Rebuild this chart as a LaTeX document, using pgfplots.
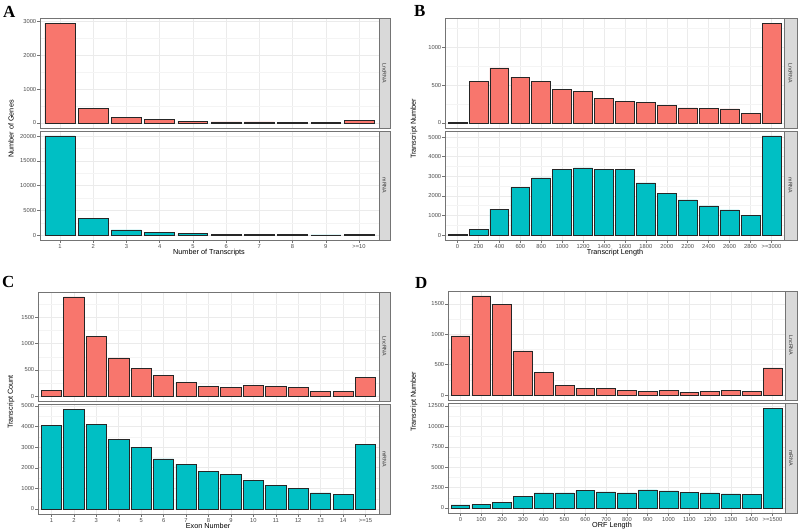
\documentclass[border=0pt]{standalone}
\usepackage{pgfplots}
\pgfplotsset{compat=1.18}
\usepackage{fontspec}
\setmainfont{Liberation Sans}
\newfontfamily\letterfont{Liberation Serif}
\definecolor{lnc}{HTML}{F8766D}
\definecolor{mrna}{HTML}{00BFC4}
\definecolor{border}{HTML}{747474}
\definecolor{gmaj}{HTML}{EBEBEB}
\definecolor{gmin}{HTML}{F4F4F4}
\definecolor{stripc}{HTML}{D9D9D9}
\definecolor{ticktext}{HTML}{4D4D4D}
\pgfplotsset{
  gg/.style={
    scale only axis,
    anchor=north west,
    axis line style={draw=border, line width=0.7bp},
    xmajorgrids, ymajorgrids, yminorgrids,
    major grid style={draw=gmaj, line width=0.55bp},
    minor grid style={draw=gmin, line width=0.35bp},
    tick align=outside, tick pos=left,
    major tick length=2.6bp, minor tick length=0pt,
    tick style={draw=border, line width=0.5bp},
    ticklabel style={font=\fontsize{5.8}{6}\selectfont, text=ticktext},
    yticklabel style={inner sep=1bp},
    xticklabel style={inner sep=1.2bp, anchor=north, text height=4.2bp, text depth=0pt},
    /pgf/number format/.cd, fixed, 1000 sep={}, assume math mode=true, /pgfplots/.cd,
    scaled y ticks=false,
    ybar, bar width=0.9,
  },
  upper/.style={xticklabels={}, xtick style={draw=none}},
  lncbar/.style={fill=lnc, draw=black!85, line width=0.7bp},
  mbar/.style={fill=mrna, draw=black!85, line width=0.7bp},
}
\begin{document}
\begin{tikzpicture}
\fill[white] (0,0) rectangle (800bp,-530bp);
\path[use as bounding box] (0,0) rectangle (800bp,-530bp);

% ---------------- Panel A ----------------
\begin{axis}[gg, upper, at={(40bp,-18bp)}, width=339bp, height=110bp,
  xmin=0.4, xmax=10.6, xtick={1,...,10},
  ymin=-147.5, ymax=3097.5, ytick={0,1000,2000,3000}, minor ytick={500,1500,2500}]
\addplot[lncbar] coordinates {(1,2950) (2,433) (3,168) (4,97) (5,50) (6,30) (7,30) (8,12) (9,12) (10,70)};
\end{axis}
\begin{axis}[gg, at={(40bp,-131bp)}, width=339bp, height=109bp,
  xmin=0.4, xmax=10.6, xtick={1,...,10},
  xticklabels={1,2,3,4,5,6,7,8,9,>=10},
  ymin=-1001, ymax=21021, ytick={0,5000,10000,15000,20000}, minor ytick={2500,7500,12500,17500}]
\addplot[mbar] coordinates {(1,20020) (2,3290) (3,1050) (4,480) (5,270) (6,150) (7,80) (8,60) (9,40) (10,60)};
\end{axis}

% ---------------- Panel B ----------------
\begin{axis}[gg, upper, at={(445bp,-18bp)}, width=339bp, height=110bp,
  xmin=0.4, xmax=16.6, xtick={1,...,16},
  ymin=-66.25, ymax=1391.25, ytick={0,500,1000}, minor ytick={250,750,1250}]
\addplot[lncbar] coordinates {(1,5) (2,547) (3,729) (4,609) (5,556) (6,447) (7,413) (8,325) (9,287) (10,268) (11,232) (12,200) (13,196) (14,186) (15,128) (16,1325)};
\end{axis}
\begin{axis}[gg, at={(445bp,-131bp)}, width=339bp, height=109bp,
  xmin=0.4, xmax=16.6, xtick={1,...,16},
  xticklabels={0,200,400,600,800,1000,1200,1400,1600,1800,2000,2200,2400,2600,2800,>=3000},
  ymin=-253, ymax=5313, ytick={0,1000,2000,3000,4000,5000}, minor ytick={500,1500,2500,3500,4500}]
\addplot[mbar] coordinates {(1,30) (2,280) (3,1330) (4,2440) (5,2920) (6,3330) (7,3430) (8,3330) (9,3360) (10,2660) (11,2130) (12,1790) (13,1490) (14,1280) (15,1020) (16,5060)};
\end{axis}

% ---------------- Panel C ----------------
\begin{axis}[gg, upper, at={(38bp,-292bp)}, width=341bp, height=109bp,
  xmin=0.4, xmax=15.6, xtick={1,...,15},
  ymin=-94.5, ymax=1984.5, ytick={0,500,1000,1500}, minor ytick={250,750,1250,1750}]
\addplot[lncbar] coordinates {(1,110) (2,1890) (3,1139) (4,728) (5,525) (6,386) (7,260) (8,184) (9,165) (10,203) (11,184) (12,165) (13,89) (14,82) (15,361)};
\end{axis}
\begin{axis}[gg, at={(38bp,-404bp)}, width=341bp, height=110bp,
  xmin=0.4, xmax=15.6, xtick={1,...,15},
  xticklabels={1,2,3,4,5,6,7,8,9,10,11,12,13,14,>=15},
  ymin=-242.5, ymax=5092.5, ytick={0,1000,2000,3000,4000,5000}, minor ytick={500,1500,2500,3500,4500}]
\addplot[mbar] coordinates {(1,4055) (2,4850) (3,4120) (4,3388) (5,2997) (6,2427) (7,2182) (8,1824) (9,1677) (10,1384) (11,1140) (12,1010) (13,782) (14,717) (15,3143)};
\end{axis}

% ---------------- Panel D ----------------
\begin{axis}[gg, upper, at={(448bp,-291bp)}, width=337bp, height=109bp,
  xmin=0.4, xmax=16.6, xtick={1,...,16},
  ymin=-81.5, ymax=1711.5, ytick={0,500,1000,1500}, minor ytick={250,750,1250}]
\addplot[lncbar] coordinates {(1,973) (2,1630) (3,1489) (4,725) (5,368) (6,159) (7,115) (8,104) (9,82) (10,66) (11,77) (12,49) (13,66) (14,71) (15,66) (16,445)};
\end{axis}
\begin{axis}[gg, at={(448bp,-403bp)}, width=337bp, height=110bp,
  xmin=0.4, xmax=16.6, xtick={1,...,16},
  xticklabels={0,100,200,300,400,500,600,700,800,900,1000,1100,1200,1300,1400,>=1500},
  ymin=-612.5, ymax=12862.5, ytick={0,2500,5000,7500,10000,12500}, minor ytick={1250,3750,6250,8750,11250}]
\addplot[mbar] coordinates {(1,369) (2,410) (3,656) (4,1393) (5,1844) (6,1844) (7,2131) (8,1967) (9,1844) (10,2213) (11,2090) (12,1926) (13,1844) (14,1721) (15,1639) (16,12250)};
\end{axis}

\begin{scope}[x=1bp, y=-1bp]
% strips
\foreach \xa/\xb/\ya/\yb/\lab in {379/390/18/128/LncRNA, 379/390/131/240/mRNA,
  784/797/18/128/LncRNA, 784/797/131/240/mRNA,
  379/390/292/401/LncRNA, 379/390/404/514/mRNA,
  785/797/291/400/LncRNA, 785/797/403/513/mRNA}{
  \draw[fill=stripc, draw=border, line width=0.7bp] (\xa,\ya) rectangle (\xb,\yb);
  \node[rotate=-90, font=\fontsize{5.3}{6}\selectfont, text=black!80, inner sep=0pt]
    at ({(\xa+\xb)/2}, {(\ya+\yb)/2}) {\lab};
}
% panel letters
\node[anchor=base west, inner sep=0pt, font=\letterfont\bfseries\fontsize{17}{17}\selectfont] at (3,17) {A};
\node[anchor=base west, inner sep=0pt, font=\letterfont\bfseries\fontsize{17}{17}\selectfont] at (414,16.5) {B};
\node[anchor=base west, inner sep=0pt, font=\letterfont\bfseries\fontsize{17}{17}\selectfont] at (2,287) {C};
\node[anchor=base west, inner sep=0pt, font=\letterfont\bfseries\fontsize{17}{17}\selectfont] at (415,288) {D};
% axis titles
\tikzset{ttl/.style={font=\fontsize{7.3}{8}\selectfont, inner sep=0pt}}
\node[ttl] at (209,253) {Number of Transcripts};
\node[ttl] at (615,253) {Transcript Length};
\node[ttl] at (208,525.5) {Exon Number};
\node[ttl] at (612,525.5) {ORF Length};
\node[ttl, rotate=90] at (11,129) {Number of Genes};
\node[ttl, rotate=90] at (414,129) {Transcript Number};
\node[ttl, rotate=90] at (11,402) {Transcript Count};
\node[ttl, rotate=90] at (414,402) {Transcript Number};
\end{scope}
\end{tikzpicture}
\end{document}
